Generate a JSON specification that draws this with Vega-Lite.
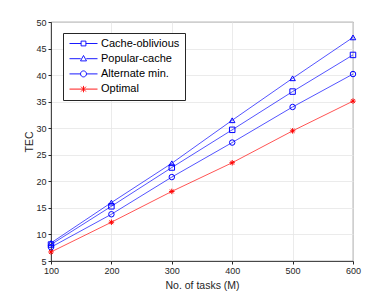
{
  "$schema": "https://vega.github.io/schema/vega-lite/v6.json",
  "width": 302,
  "height": 239,
  "autosize": {"type": "none"},
  "padding": {"left": 51, "top": 22, "right": 37, "bottom": 32},
  "background": "white",
  "config": {
    "font": "Liberation Sans",
    "view": {"stroke": "#262626", "strokeWidth": 0.8},
    "axis": {
      "domainColor": "#262626",
      "domainWidth": 0.8,
      "tickColor": "#262626",
      "labelColor": "#262626",
      "titleColor": "#262626",
      "labelFontSize": 9,
      "titleFontSize": 10.5,
      "titleFontWeight": "normal",
      "gridColor": "#e6e6e6",
      "gridWidth": 0.8,
      "labelFlush": false
    },
    "legend": {
      "orient": "none",
      "legendX": 12,
      "legendY": 11,
      "strokeColor": "#262626",
      "fillColor": "white",
      "padding": 5,
      "symbolStrokeWidth": 0.9,
      "symbolOffset": 10,
      "labelFontSize": 11,
      "labelColor": "#000000",
      "labelOffset": 12,
      "rowPadding": 3.2
    }
  },
  "data": {
    "values": [
      {"tasks": 100, "series": "Cache-oblivious", "tec": 8.1},
      {"tasks": 200, "series": "Cache-oblivious", "tec": 15.3},
      {"tasks": 300, "series": "Cache-oblivious", "tec": 22.6},
      {"tasks": 400, "series": "Cache-oblivious", "tec": 29.7},
      {"tasks": 500, "series": "Cache-oblivious", "tec": 36.9},
      {"tasks": 600, "series": "Cache-oblivious", "tec": 43.8},
      {"tasks": 100, "series": "Popular-cache", "tec": 8.4},
      {"tasks": 200, "series": "Popular-cache", "tec": 16.0},
      {"tasks": 300, "series": "Popular-cache", "tec": 23.4},
      {"tasks": 400, "series": "Popular-cache", "tec": 31.5},
      {"tasks": 500, "series": "Popular-cache", "tec": 39.4},
      {"tasks": 600, "series": "Popular-cache", "tec": 47.1},
      {"tasks": 100, "series": "Alternate min.", "tec": 7.6},
      {"tasks": 200, "series": "Alternate min.", "tec": 13.8},
      {"tasks": 300, "series": "Alternate min.", "tec": 20.8},
      {"tasks": 400, "series": "Alternate min.", "tec": 27.3},
      {"tasks": 500, "series": "Alternate min.", "tec": 34.0},
      {"tasks": 600, "series": "Alternate min.", "tec": 40.2},
      {"tasks": 100, "series": "Optimal", "tec": 6.7},
      {"tasks": 200, "series": "Optimal", "tec": 12.3},
      {"tasks": 300, "series": "Optimal", "tec": 18.1},
      {"tasks": 400, "series": "Optimal", "tec": 23.5},
      {"tasks": 500, "series": "Optimal", "tec": 29.5},
      {"tasks": 600, "series": "Optimal", "tec": 35.1}
    ]
  },
  "encoding": {
    "x": {
      "field": "tasks", "type": "quantitative",
      "scale": {"domain": [100, 600], "nice": false},
      "axis": {"values": [100, 200, 300, 400, 500, 600], "title": "No. of tasks (M)", "tickSize": 3, "labelPadding": 2, "titlePadding": 5, "grid": true}
    },
    "y": {
      "field": "tec", "type": "quantitative",
      "scale": {"domain": [5, 50], "nice": false, "zero": false},
      "axis": {"values": [5, 10, 15, 20, 25, 30, 35, 40, 45, 50], "title": "TEC", "tickSize": 3, "labelPadding": 2, "titlePadding": 1, "grid": true}
    }
  },
  "layer": [
    {
      "mark": {"type": "line", "strokeWidth": 0.9, "opacity": 0.75},
      "encoding": {
        "color": {
          "field": "series", "type": "nominal",
          "scale": {"domain": ["Cache-oblivious", "Popular-cache", "Alternate min.", "Optimal"], "range": ["#0000ff", "#0000ff", "#0000ff", "#ff0000"]},
          "legend": null
        }
      }
    },
    {
      "layer": [
        {
          "mark": {"type": "point", "filled": false, "strokeWidth": 1, "opacity": 1, "size": 30},
          "encoding": {
            "color": {
              "field": "series", "type": "nominal",
              "scale": {"domain": ["Cache-oblivious", "Popular-cache", "Alternate min.", "Optimal"], "range": ["#0000ff", "#0000ff", "#0000ff", "#ff0000"]},
              "legend": null
            },
            "shape": {
              "field": "series", "type": "nominal",
              "scale": {"domain": ["Cache-oblivious", "Popular-cache", "Alternate min.", "Optimal"], "range": ["square", "triangle-up", "circle", "M-1,0H1M0,-1V1M-0.7,-0.7L0.7,0.7M-0.7,0.7L0.7,-0.7"]},
              "legend": null
            }
          }
        }
      ]
    },
    {
      "transform": [{"filter": "datum.tec < 0"}],
      "mark": {"type": "point", "filled": false, "strokeWidth": 0.9, "opacity": 1, "size": 64},
      "encoding": {
        "color": {
          "field": "series", "type": "nominal",
          "scale": {"domain": ["Cache-oblivious", "Popular-cache", "Alternate min.", "Optimal"], "range": ["#0000ff", "#0000ff", "#0000ff", "#ff0000"]},
          "legend": {"title": null}
        },
        "shape": {
          "field": "series", "type": "nominal",
          "scale": {"domain": ["Cache-oblivious", "Popular-cache", "Alternate min.", "Optimal"], "range": [
            "M-3.5,0H-0.6M0.6,0H3.5M-0.6,-0.6H0.6V0.6H-0.6Z",
            "M-3.5,0H-0.7M0.7,0H3.5M-0.75,0.55L0,-0.8L0.75,0.55Z",
            "M-3.5,0H-0.75M0.75,0H3.5M0.75,0A0.75,0.75,0,1,1,-0.75,0A0.75,0.75,0,1,1,0.75,0Z",
            "M-3.5,0H3.5M0,-0.8V0.8M-0.6,-0.6L0.6,0.6M-0.6,0.6L0.6,-0.6"
          ]},
          "legend": {"title": null, "symbolSize": 64}
        }
      }
    }
  ],
  "resolve": {"scale": {"shape": "independent", "color": "independent"}, "legend": {"shape": "independent", "color": "independent"}}
}
